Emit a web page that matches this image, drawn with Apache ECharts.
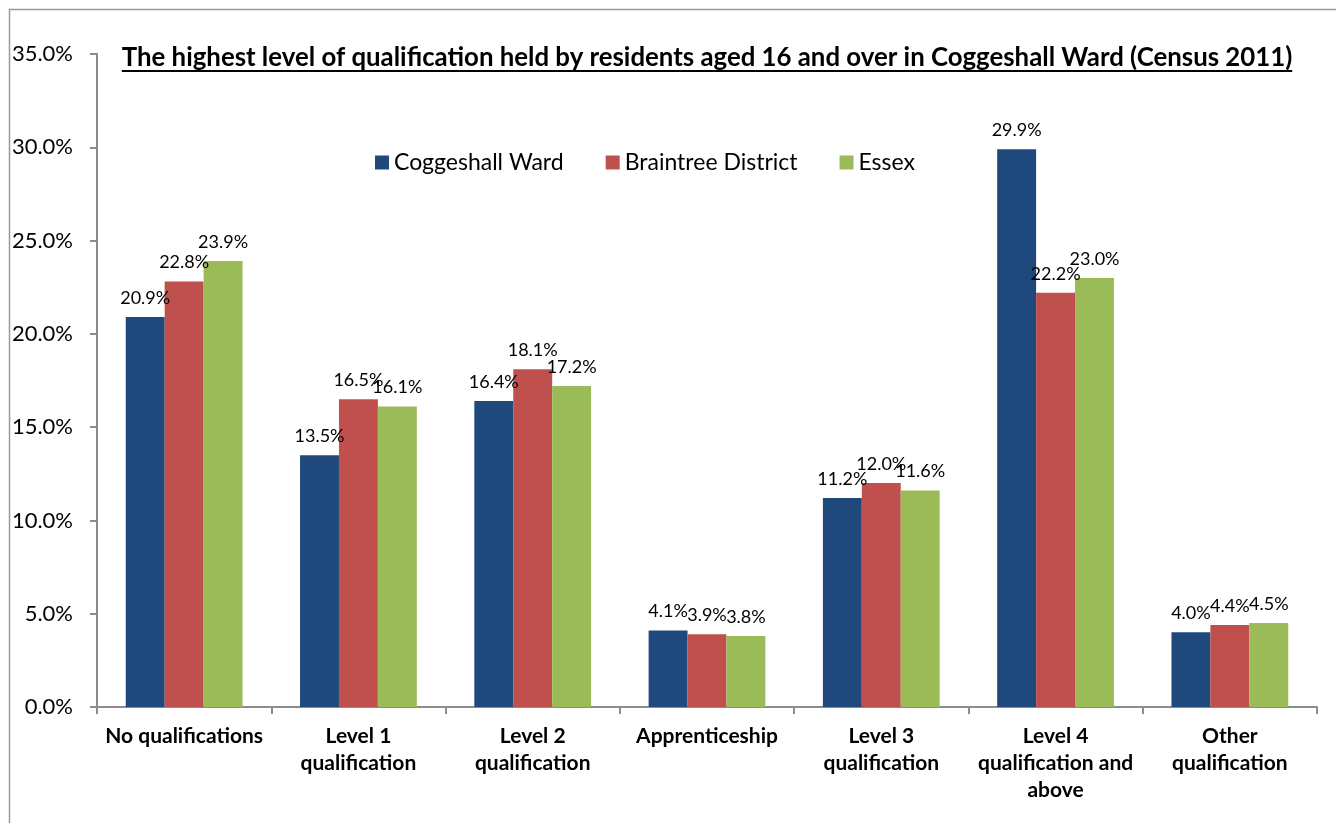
<!DOCTYPE html>
<html>
<head>
<meta charset="utf-8">
<title>Highest level of qualification - Coggeshall Ward</title>
<script src="https://cdn.jsdelivr.net/npm/echarts@6/dist/echarts.min.js"></script>
<style>
  html, body { margin: 0; padding: 0; background: #fff; }
  #main { width: 1336px; height: 823px; }
</style>
</head>
<body>
<div id="main"></div>
<script>
// data (percent of residents aged 16+)
var categories = ['No qualifications', 'Level 1\nqualification', 'Level 2\nqualification',
    'Apprenticeship', 'Level 3\nqualification', 'Level 4\nqualification and\nabove', 'Other\nqualification'];
var coggeshall = [20.9, 13.5, 16.4, 4.1, 11.2, 29.9, 4.0];
var braintree = [22.8, 16.5, 18.1, 3.9, 12.0, 22.2, 4.4];
var essex = [23.9, 16.1, 17.2, 3.8, 11.6, 23.0, 4.5];
var seriesNames = ['Coggeshall Ward', 'Braintree District', 'Essex'];
var yTicks = [0, 5, 10, 15, 20, 25, 30, 35];

var titleText = 'The highest level of qualification held by residents aged 16 and over in Coggeshall Ward (Census 2011)';
var FONT = 'Lato, "Open Sans", sans-serif';
var axisGrey = '#8c8c8c';

var chart = echarts.init(document.getElementById('main'));

// title is centred over the plot and underlined, so measure it
var ctx = document.createElement('canvas').getContext('2d');
ctx.font = 'bold 25.8px Lato';
var titleW = ctx.measureText(titleText).width;
var plotL = 97, plotR = 1317;
var titleCx = (plotL + plotR) / 2;

function pct(v) { return v.toFixed(1) + '%'; }

function barSeries(name, data) {
    return {
        name: name,
        type: 'bar',
        data: data,
        barGap: '0%',
        barCategoryGap: '33%',
        label: {
            show: true,
            position: 'top',
            distance: 10,
            color: '#000',
            fontFamily: FONT,
            fontSize: 18,
            formatter: function(p) { return pct(p.value); }
        }
    };
}

var option = {
    animation: false,
    textStyle: { fontFamily: FONT },
    color: ['#1F497D', '#C0504D', '#9BBB59'],
    graphic: [{
        type: 'rect',
        shape: { x: 9.5, y: 9.5, width: 1600, height: 1000 },
        style: { fill: 'none', stroke: '#9a9a9a', lineWidth: 1.5 }
    }, {
        type: 'text',
        x: titleCx,
        y: 58,
        style: {
            text: titleText,
            fontFamily: FONT,
            fontSize: 25.8,
            fontWeight: 'bold',
            fill: '#000',
            align: 'center',
            verticalAlign: 'middle'
        }
    }, {
        type: 'line',
        shape: { x1: titleCx - titleW / 2, y1: 71, x2: titleCx + titleW / 2, y2: 71 },
        style: { stroke: '#000', lineWidth: 2 }
    }],
    legend: {
        data: seriesNames,
        left: 370,
        top: 146,
        icon: 'rect',
        itemWidth: 14,
        itemHeight: 14,
        itemGap: 42,
        textStyle: { fontFamily: FONT, fontSize: 23, color: '#000' }
    },
    grid: {
        left: plotL,
        right: 1336 - plotR,
        top: 54,
        bottom: 116,
        containLabel: false
    },
    xAxis: {
        type: 'category',
        data: categories,
        axisLine: { lineStyle: { color: axisGrey, width: 2 } },
        axisTick: { show: true, length: 7, lineStyle: { color: axisGrey, width: 2 } },
        axisLabel: {
            interval: 0,
            margin: 16,
            color: '#000',
            fontFamily: FONT,
            fontSize: 21,
            fontWeight: 'bold',
            lineHeight: 27
        }
    },
    yAxis: {
        type: 'value',
        min: yTicks[0],
        max: yTicks[yTicks.length - 1],
        interval: yTicks[1] - yTicks[0],
        splitLine: { show: false },
        axisLine: { show: true, lineStyle: { color: axisGrey, width: 2 } },
        axisTick: { show: true, length: 7, lineStyle: { color: axisGrey, width: 2 } },
        axisLabel: {
            margin: 24,
            color: '#000',
            fontFamily: FONT,
            fontSize: 22,
            formatter: function(v) { return pct(v); }
        }
    },
    series: [
        barSeries(seriesNames[0], coggeshall),
        barSeries(seriesNames[1], braintree),
        barSeries(seriesNames[2], essex)
    ]
};

chart.setOption(option);
</script>
</body>
</html>
